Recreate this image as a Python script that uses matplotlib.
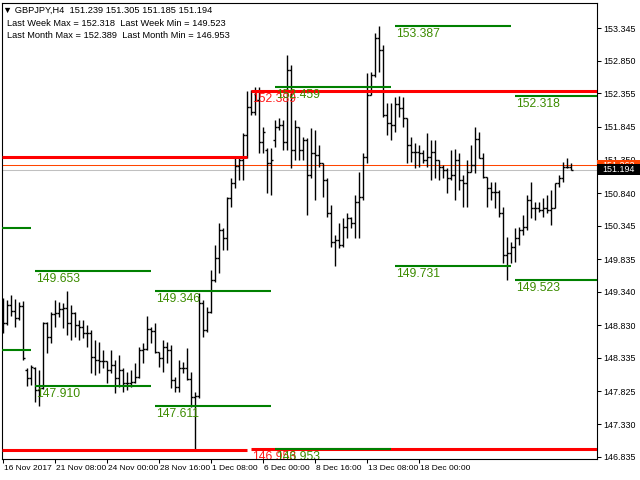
import matplotlib
matplotlib.use('Agg')
import matplotlib.pyplot as plt
import numpy as np
from matplotlib.patches import Rectangle
from matplotlib.transforms import blended_transform_factory, ScaledTranslation

plt.rcParams['font.family'] = ['Liberation Sans', 'DejaVu Sans']

symbol = 'GBPJPY,H4'

# H4 bars, 16 Nov 2017 .. 20 Dec 2017
opens = [149.140, 148.866, 149.140, 149.048, 148.942, 149.124, 148.152, 148.030, 148.182, 147.848,
         147.878, 148.866, 148.653, 149.003, 149.018, 149.079, 149.094, 148.866, 149.018, 148.836,
         148.805, 148.714, 148.714, 148.349, 148.304, 148.289, 148.289, 148.152, 148.228, 148.030,
         148.152, 147.954, 147.954, 147.969, 148.045, 148.456, 148.471, 148.775, 148.744, 148.425,
         148.334, 148.501, 148.456, 148.000, 147.893, 148.182, 148.182, 148.015, 147.741, 147.757,
         149.170, 148.760, 149.033, 149.520, 149.854, 150.279, 150.158, 150.766, 150.994, 151.252,
         151.343, 151.723, 152.149, 152.073, 152.255, 151.617, 151.495, 151.298, 151.647, 151.845,
         151.875, 151.617, 152.711, 151.495, 151.845, 151.495, 151.647, 151.115, 151.450, 151.419,
         151.298, 151.039, 150.538, 150.097, 150.127, 150.051, 150.325, 150.462, 150.386, 150.705,
         150.781, 151.389, 152.331, 152.635, 153.197, 153.015, 152.027, 151.906, 151.875, 152.194,
         152.134, 151.982, 151.571, 151.465, 151.465, 151.450, 151.343, 151.389, 151.465, 151.343,
         151.237, 151.191, 151.070, 151.115, 151.343, 151.039, 150.994, 151.161, 151.267, 151.663,
         151.374, 151.085, 150.918, 150.857, 150.857, 150.538, 149.900, 149.930, 150.021, 150.158,
         150.279, 150.325, 150.735, 150.614, 150.614, 150.583, 150.614, 150.583, 150.614, 150.994,
         151.070, 151.237, 151.239]
highs = [149.246, 149.216, 149.292, 149.231, 149.185, 149.200, 148.182, 148.228, 148.197, 148.152,
         148.881, 148.881, 149.033, 149.216, 149.185, 149.170, 149.346, 149.140, 149.033, 148.912,
         148.912, 148.836, 148.760, 148.608, 148.577, 148.456, 148.289, 148.456, 148.304, 148.380,
         148.182, 148.121, 148.152, 148.258, 148.501, 148.562, 148.972, 148.805, 148.866, 148.425,
         148.608, 148.577, 148.532, 148.045, 148.304, 148.273, 148.486, 148.121, 147.817, 149.322,
         149.216, 149.109, 149.672, 150.051, 150.386, 150.310, 150.781, 151.070, 151.404, 151.404,
         151.754, 152.389, 152.407, 152.459, 152.453, 151.845, 151.526, 151.526, 151.951, 151.982,
         151.951, 152.939, 152.787, 151.951, 151.845, 151.693, 151.678, 151.830, 151.799, 151.571,
         151.298, 151.070, 150.659, 150.203, 150.386, 150.462, 150.538, 150.477, 150.811, 151.161,
         151.450, 152.666, 152.681, 153.273, 153.387, 153.091, 152.210, 152.210, 152.300, 152.318,
         152.308, 151.982, 151.693, 151.602, 151.571, 151.495, 151.754, 151.647, 151.647, 151.343,
         151.267, 151.222, 151.495, 151.510, 151.450, 151.115, 151.343, 151.571, 151.845, 151.769,
         151.450, 151.085, 151.009, 151.009, 150.887, 150.629, 150.173, 150.097, 150.310, 150.325,
         150.507, 150.811, 151.009, 150.705, 150.705, 150.766, 150.811, 150.887, 150.994, 151.115,
         151.313, 151.374, 151.305]
lows = [148.714, 148.836, 148.972, 148.805, 148.912, 148.304, 147.910, 147.924, 147.665, 147.611,
        147.870, 148.410, 148.562, 148.805, 148.957, 148.790, 148.684, 148.608, 148.653, 148.608,
        148.638, 148.501, 148.106, 148.076, 148.106, 148.182, 147.954, 148.106, 147.802, 147.893,
        147.817, 147.848, 147.893, 147.954, 148.030, 148.258, 148.456, 148.562, 148.410, 148.197,
        148.121, 148.258, 147.878, 147.817, 147.817, 148.106, 148.000, 147.590, 146.953, 147.726,
        148.653, 148.729, 149.018, 149.489, 149.626, 149.975, 149.975, 150.629, 150.918, 151.039,
        151.039, 151.374, 152.027, 152.027, 151.450, 151.450, 150.842, 150.811, 151.541, 151.799,
        151.495, 151.495, 151.222, 151.343, 151.343, 151.343, 150.507, 151.070, 150.735, 151.237,
        150.781, 150.477, 150.021, 149.731, 150.006, 150.021, 150.158, 150.310, 150.158, 150.158,
        150.735, 151.298, 152.331, 152.605, 152.681, 151.997, 151.723, 151.647, 151.769, 151.997,
        151.845, 151.298, 151.313, 151.222, 151.237, 151.298, 151.237, 151.039, 151.070, 151.039,
        151.070, 150.842, 151.039, 150.735, 150.887, 150.629, 150.629, 151.161, 151.146, 151.374,
        151.070, 150.629, 150.735, 150.614, 150.477, 149.778, 149.523, 149.778, 149.793, 150.051,
        150.203, 150.279, 150.462, 150.431, 150.553, 150.477, 150.538, 150.355, 150.614, 150.933,
        151.009, 151.222, 151.185]
closes = [148.866, 149.140, 149.048, 148.942, 149.124, 148.334, 148.030, 148.197, 147.848, 147.878,
          148.866, 148.653, 149.003, 149.018, 149.079, 149.094, 148.866, 149.018, 148.836, 148.805,
          148.714, 148.714, 148.349, 148.304, 148.289, 148.289, 148.152, 148.228, 148.030, 148.152,
          147.954, 147.954, 147.969, 148.045, 148.456, 148.471, 148.775, 148.744, 148.425, 148.334,
          148.501, 148.456, 148.000, 147.893, 148.182, 148.182, 148.015, 147.741, 147.757, 149.170,
          148.760, 149.033, 149.520, 149.854, 150.279, 150.158, 150.766, 150.994, 151.252, 151.343,
          151.723, 152.149, 152.073, 152.255, 151.617, 151.769, 151.298, 151.343, 151.845, 151.875,
          151.617, 152.711, 151.495, 151.845, 151.495, 151.647, 151.115, 151.450, 151.419, 151.298,
          151.039, 150.538, 150.097, 150.127, 150.051, 150.325, 150.462, 150.386, 150.705, 150.781,
          151.389, 152.331, 152.635, 153.197, 153.015, 152.027, 151.906, 151.875, 152.194, 152.134,
          151.982, 151.571, 151.465, 151.465, 151.450, 151.343, 151.389, 151.465, 151.343, 151.237,
          151.191, 151.070, 151.115, 151.343, 151.039, 150.994, 151.161, 151.267, 151.663, 151.374,
          151.085, 150.918, 150.857, 150.857, 150.538, 149.900, 149.930, 150.021, 150.158, 150.279,
          150.325, 150.735, 150.614, 150.614, 150.583, 150.614, 150.583, 150.614, 150.994, 151.070,
          151.237, 151.239, 151.194]

# previous week's max/min, drawn across each week (first bar, last bar)
week_first = [0, 8, 38, 68, 98, 128]
week_last = [7, 37, 67, 97, 127, 142]
week_max = [150.310, 149.653, 149.346, 152.459, 153.387, 152.318]
week_min = [148.456, 147.910, 147.611, 146.953, 149.731, 149.523]

# previous month's max/min
month_first = [0, 62]
month_last = [61, 142]
month_max = [151.384, 152.389]
month_min = [146.940, 146.953]

ask_price = 151.262

time_ticks = [0, 13, 26, 39, 52, 65, 78, 91, 104]
time_labels = ['16 Nov 2017', '21 Nov 08:00', '24 Nov 00:00', '28 Nov 16:00', '1 Dec 08:00',
               '6 Dec 00:00', '8 Dec 16:00', '13 Dec 08:00', '18 Dec 00:00']
price_ticks = [153.345, 152.850, 152.355, 151.845, 151.350, 150.840, 150.345,
               149.835, 149.340, 148.830, 148.335, 147.825, 147.330, 146.835]

W, H = 640.0, 480.0
fig = plt.figure(figsize=(6.4, 4.8), dpi=100)
ax = fig.add_axes([2 / W, 1 - 459 / H, 595 / W, 456.5 / H])
x0, x1 = -0.25, 148.5
ax.set_xlim(x0, x1)
ax.set_ylim(146.799, 153.737)

idx = np.arange(len(closes))

# bid / ask lines
ax.axhline(ask_price, color='#ff4500', lw=0.75, zorder=1)
ax.axhline(closes[-1], color='#c0c0c0', lw=0.75, zorder=1)

# OHLC bars
ax.vlines(idx, lows, highs, color='black', lw=1.0, zorder=2)
ax.hlines(opens, idx - 0.45, idx, color='black', lw=1.0, zorder=2)
ax.hlines(closes, idx, idx + 0.45, color='black', lw=1.0, zorder=2)

lbl_off = ScaledTranslation(0.5 / 72, -1.5 / 72, fig.dpi_scale_trans)


def level(first, last, value, color, lw, txt_color):
    a = x0 if first == 0 else first
    b = x1 if last == len(closes) - 1 else last
    ax.plot([a, b], [value, value], color=color, lw=lw, solid_capstyle='butt', zorder=3)
    if first > 0:
        ax.text(first, value, '%.3f' % value, transform=ax.transData + lbl_off,
                ha='left', va='top', fontsize=8.7, color=txt_color, clip_on=True, zorder=4)


for k in range(len(month_first)):
    level(month_first[k], month_last[k], month_max[k], '#ff0000', 2.2, '#ff1a1a')
    level(month_first[k], month_last[k], month_min[k], '#ff0000', 2.2, '#ff1a1a')
for k in range(len(week_first)):
    level(week_first[k], week_last[k], week_max[k], '#008000', 1.5, '#3c8c00')
    level(week_first[k], week_last[k], week_min[k], '#008000', 1.5, '#3c8c00')

# axes styling
for s in ax.spines.values():
    s.set_color('black')
    s.set_linewidth(0.8)
ax.yaxis.tick_right()
ax.set_yticks(price_ticks)
ax.set_yticklabels(['%.3f' % p for p in price_ticks])
ax.tick_params(axis='y', direction='out', length=3, width=0.75, pad=1.5, labelsize=6.4)
ax.set_xticks(time_ticks)
ax.set_xticklabels([])
ax.tick_params(axis='x', direction='out', length=3, width=0.75)
xtr = blended_transform_factory(ax.transData, ax.transAxes)
for t, lab in zip(time_ticks, time_labels):
    ax.text(t, 0, lab, transform=xtr + ScaledTranslation(1.0 / 72, -4.2 / 72, fig.dpi_scale_trans),
            ha='left', va='top', fontsize=6.0, clip_on=False)

# price boxes on the right scale
btr = blended_transform_factory(ax.transAxes, ax.transData)
box_h = 0.165
fig.add_artist(Rectangle((1.0, ask_price - box_h / 2), 43 / 595, box_h, transform=btr,
                         facecolor='#ff4500', edgecolor='none', zorder=5))
t_ask = fig.text(0, 0, '%.3f' % ask_price, color='white', fontsize=6.4, va='center', ha='left', zorder=6)
t_ask.set_transform(btr + ScaledTranslation(5.5 / 100, 0, fig.dpi_scale_trans))
t_ask.set_position((1.0, ask_price))
fig.add_artist(Rectangle((1.0, closes[-1] - box_h / 2), 43 / 595, box_h, transform=btr,
                         facecolor='black', edgecolor='none', zorder=7))
t_bid = fig.text(0, 0, '%.3f' % closes[-1], color='white', fontsize=6.4, va='center', ha='left', zorder=8)
t_bid.set_transform(btr + ScaledTranslation(5.5 / 100, 0, fig.dpi_scale_trans))
t_bid.set_position((1.0, closes[-1]))

# header
fig.text(3 / W, 1 - 10 / H, '\u25bc %s  %.3f %.3f %.3f %.3f' % (symbol, opens[-1], highs[-1], lows[-1], closes[-1]),
         fontsize=6.7, va='center', ha='left')
fig.text(7 / W, 1 - 23.5 / H, 'Last Week Max = %.3f  Last Week Min = %.3f' % (week_max[-1], week_min[-1]),
         fontsize=6.7, va='center', ha='left')
fig.text(7 / W, 1 - 35.5 / H, 'Last Month Max = %.3f  Last Month Min = %.3f' % (month_max[-1], month_min[-1]),
         fontsize=6.7, va='center', ha='left')

fig.savefig('out.png', dpi=100)
